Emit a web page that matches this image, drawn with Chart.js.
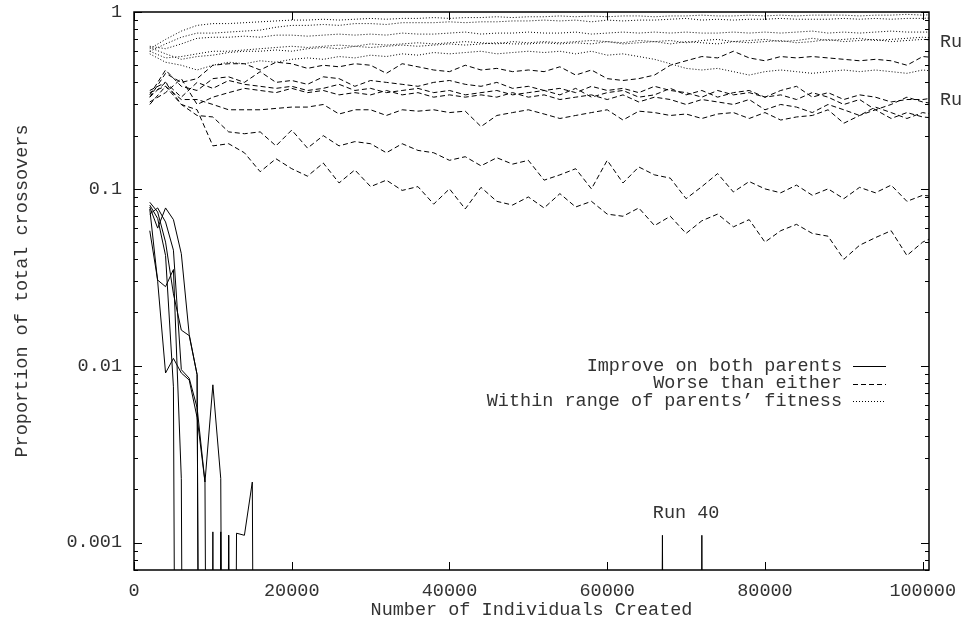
<!DOCTYPE html>
<html>
<head>
<meta charset="utf-8">
<script src="https://cdn.jsdelivr.net/npm/chart.js@4.4.0/dist/chart.umd.min.js"></script>
<style>
  html, body { margin: 0; padding: 0; background: #fff; }
</style>
</head>
<body>
<canvas id="chart" width="968" height="622"></canvas>
<script>
// sample points (individuals created) for the worse / within series
const sampleX = [2000, 4000, 6000, 8000, 10000, 12000, 14000, 16000, 18000, 20000,
  22000, 24000, 26000, 28000, 30000, 32000, 34000, 36000, 38000, 40000,
  42000, 44000, 46000, 48000, 50000, 52000, 54000, 56000, 58000, 60000,
  62000, 64000, 66000, 68000, 70000, 72000, 74000, 76000, 78000, 80000,
  82000, 84000, 86000, 88000, 90000, 92000, 94000, 96000, 98000, 100000,
  102000];

// early samples for the "improve" series
const improveX = [2000, 3000, 4000, 5000, 6000, 7000, 8000, 9000, 10000,
  11000, 12000, 13000, 14000, 15000, 16000];

// Improve on both parents (one list per run, 0 = none)
const improve1 = [0.079, 0.060, 0.078, 0.067, 0.043, 0.015, 0.0089, 0, 0, 0, 0, 0, 0, 0, 0];
const improve2 = [0.077, 0.030, 0.0091, 0.011, 0.0091, 0.0083, 0.0051, 0.0022, 0.0078, 0.0023, 0, 0, 0, 0, 0];
const improve3 = [0.058, 0.0305, 0.028, 0.035, 0.0023, 0, 0, 0, 0, 0.00115, 0, 0, 0, 0, 0];
const improve4 = [0.084, 0.074, 0.050, 0.0255, 0.0159, 0.0148, 0.0089, 0, 0.00115, 0, 0.0011, 0, 0, 0, 0];
const improve5 = [0.081, 0.068, 0.042, 0.0076, 0, 0, 0, 0, 0, 0, 0, 0.00113, 0.0011, 0.0022, 0];
const improve6 = [0.072, 0.078, 0.065, 0.045, 0.0095, 0.0085, 0.0058, 0.0022, 0, 0, 0.0011, 0, 0, 0, 0];
// run 40 late successes
const run40X = [66000, 67000, 68000, 71000, 72000, 73000];
const run40Y = [0, 0.0011, 0, 0, 0.0011, 0];

// Worse than either
const worse1 = [0.33, 0.45, 0.40, 0.42, 0.50, 0.51, 0.51, 0.47, 0.52, 0.51,
  0.48, 0.50, 0.49, 0.51, 0.50, 0.45, 0.51, 0.49, 0.47, 0.46,
  0.50, 0.47, 0.48, 0.46, 0.47, 0.46, 0.49, 0.44, 0.47, 0.42,
  0.41, 0.42, 0.44, 0.50, 0.53, 0.56, 0.55, 0.60, 0.55, 0.53,
  0.56, 0.55, 0.56, 0.55, 0.54, 0.53, 0.54, 0.53, 0.50, 0.56,
  0.55];
const worse2 = [0.34, 0.47, 0.38, 0.36, 0.42, 0.43, 0.40, 0.46, 0.40, 0.41,
  0.39, 0.43, 0.42, 0.38, 0.41, 0.40, 0.39, 0.38, 0.40, 0.41,
  0.39, 0.38, 0.40, 0.37, 0.38, 0.36, 0.37, 0.35, 0.38, 0.36,
  0.37, 0.35, 0.38, 0.36, 0.35, 0.33, 0.36, 0.34, 0.35, 0.33,
  0.36, 0.38, 0.33, 0.35, 0.32, 0.34, 0.33, 0.31, 0.32, 0.32,
  0.33];
const worse3 = [0.36, 0.40, 0.33, 0.40, 0.37, 0.41, 0.39, 0.38, 0.37, 0.38,
  0.36, 0.37, 0.39, 0.36, 0.37, 0.35, 0.36, 0.37, 0.35, 0.36,
  0.34, 0.35, 0.36, 0.34, 0.35, 0.36, 0.34, 0.37, 0.33, 0.35,
  0.36, 0.33, 0.34, 0.37, 0.34, 0.36, 0.33, 0.35, 0.36, 0.33,
  0.34, 0.32, 0.35, 0.33, 0.30, 0.32, 0.28, 0.30, 0.33, 0.31,
  0.30];
const worse4 = [0.31, 0.35, 0.42, 0.30, 0.33, 0.35, 0.37, 0.36, 0.35, 0.37,
  0.35, 0.36, 0.34, 0.35, 0.34, 0.36, 0.34, 0.35, 0.33, 0.34,
  0.33, 0.34, 0.33, 0.35, 0.33, 0.34, 0.32, 0.33, 0.34, 0.32,
  0.34, 0.31, 0.33, 0.32, 0.30, 0.32, 0.31, 0.30, 0.32, 0.28,
  0.30, 0.29, 0.27, 0.30, 0.28, 0.26, 0.29, 0.27, 0.25, 0.27,
  0.26];
const worse5 = [0.30, 0.38, 0.32, 0.32, 0.30, 0.28, 0.28, 0.28, 0.285, 0.29,
  0.29, 0.30, 0.265, 0.28, 0.28, 0.26, 0.28, 0.275, 0.28, 0.27,
  0.275, 0.225, 0.26, 0.27, 0.28, 0.265, 0.25, 0.26, 0.27, 0.28,
  0.245, 0.275, 0.27, 0.26, 0.265, 0.25, 0.265, 0.27, 0.25, 0.27,
  0.245, 0.255, 0.26, 0.28, 0.235, 0.26, 0.28, 0.25, 0.27, 0.255,
  0.25];
const worse6 = [0.35, 0.38, 0.30, 0.26, 0.255, 0.21, 0.205, 0.21, 0.175, 0.215,
  0.17, 0.20, 0.175, 0.185, 0.18, 0.16, 0.18, 0.165, 0.16, 0.145,
  0.152, 0.135, 0.15, 0.138, 0.145, 0.112, 0.12, 0.13, 0.10, 0.145,
  0.108, 0.133, 0.12, 0.115, 0.088, 0.103, 0.122, 0.096, 0.11, 0.10,
  0.095, 0.105, 0.092, 0.10, 0.088, 0.102, 0.095, 0.105, 0.085, 0.092,
  0.09];
const worse7 = [0.33, 0.40, 0.30, 0.28, 0.175, 0.18, 0.16, 0.125, 0.148, 0.13,
  0.118, 0.14, 0.108, 0.128, 0.103, 0.112, 0.098, 0.103, 0.082, 0.10,
  0.077, 0.102, 0.085, 0.081, 0.09, 0.078, 0.094, 0.079, 0.085, 0.072,
  0.07, 0.078, 0.062, 0.07, 0.056, 0.066, 0.072, 0.061, 0.067, 0.05,
  0.058, 0.063, 0.056, 0.054, 0.04, 0.048, 0.053, 0.058, 0.042, 0.05,
  0.055];

// Within range of parents' fitness
const within1 = [0.62, 0.70, 0.78, 0.84, 0.86, 0.86, 0.87, 0.88, 0.89, 0.90,
  0.90, 0.91, 0.90, 0.91, 0.92, 0.91, 0.92, 0.92, 0.93, 0.92,
  0.93, 0.93, 0.94, 0.93, 0.94, 0.94, 0.95, 0.94, 0.95, 0.94,
  0.95, 0.95, 0.94, 0.95, 0.95, 0.96, 0.95, 0.95, 0.96, 0.95,
  0.96, 0.95, 0.96, 0.96, 0.96, 0.95, 0.96, 0.96, 0.97, 0.96,
  0.97];
const within2 = [0.60, 0.66, 0.72, 0.76, 0.76, 0.77, 0.78, 0.79, 0.82, 0.84,
  0.84, 0.85, 0.84, 0.86, 0.86, 0.85, 0.87, 0.87, 0.87, 0.88,
  0.87, 0.88, 0.88, 0.89, 0.89, 0.90, 0.89, 0.90, 0.88, 0.90,
  0.89, 0.90, 0.90, 0.91, 0.92, 0.90, 0.91, 0.90, 0.91, 0.91,
  0.92, 0.91, 0.91, 0.91, 0.92, 0.91, 0.92, 0.91, 0.92, 0.92,
  0.93];
const within3 = [0.64, 0.62, 0.66, 0.71, 0.72, 0.72, 0.73, 0.72, 0.74, 0.74,
  0.73, 0.74, 0.75, 0.74, 0.75, 0.74, 0.76, 0.75, 0.75, 0.76,
  0.77, 0.75, 0.76, 0.76, 0.77, 0.76, 0.76, 0.77, 0.75, 0.76,
  0.77, 0.76, 0.77, 0.76, 0.77, 0.76, 0.76, 0.77, 0.76, 0.77,
  0.76, 0.77, 0.78, 0.76, 0.77, 0.76, 0.77, 0.78, 0.77, 0.77,
  0.77];
const within4 = [0.60, 0.55, 0.56, 0.58, 0.60, 0.60, 0.61, 0.62, 0.63, 0.64,
  0.63, 0.64, 0.65, 0.64, 0.66, 0.65, 0.66, 0.67, 0.66, 0.67,
  0.68, 0.67, 0.66, 0.68, 0.67, 0.68, 0.67, 0.68, 0.69, 0.68,
  0.67, 0.69, 0.68, 0.69, 0.67, 0.69, 0.70, 0.68, 0.69, 0.70,
  0.68, 0.69, 0.71, 0.69, 0.70, 0.71, 0.69, 0.70, 0.71, 0.72,
  0.71];
const within5 = [0.63, 0.58, 0.54, 0.56, 0.57, 0.59, 0.60, 0.60, 0.61, 0.60,
  0.62, 0.63, 0.62, 0.64, 0.63, 0.64, 0.65, 0.64, 0.65, 0.66,
  0.65, 0.66, 0.67, 0.66, 0.66, 0.67, 0.66, 0.67, 0.66, 0.68,
  0.66, 0.67, 0.68, 0.66, 0.68, 0.67, 0.66, 0.68, 0.67, 0.68,
  0.69, 0.67, 0.68, 0.70, 0.68, 0.69, 0.70, 0.68, 0.69, 0.70,
  0.69];
const within6 = [0.58, 0.52, 0.50, 0.47, 0.50, 0.52, 0.51, 0.53, 0.52, 0.54,
  0.55, 0.54, 0.56, 0.55, 0.57, 0.56, 0.58, 0.57, 0.59, 0.58,
  0.59, 0.60, 0.58, 0.59, 0.60, 0.59, 0.60, 0.58, 0.60, 0.57,
  0.58, 0.56, 0.54, 0.51, 0.48, 0.47, 0.48, 0.46, 0.44, 0.46,
  0.47, 0.46, 0.45, 0.46, 0.47, 0.46, 0.47, 0.46, 0.45, 0.47,
  0.46];

const xTicks = [0, 20000, 40000, 60000, 80000, 100000];
const yTicks = [0.001, 0.01, 0.1, 1];
const yTickLabels = ['0.001', '0.01', '0.1', '1'];
const legendLabels = ['Improve on both parents', 'Worse than either', 'Within range of parents’ fitness'];
const styles = { solid: [], dashed: [5, 3], dotted: [1, 2] };

// a zero can't sit on a log axis; push it far below so the line drops straight out
const LOG_FLOOR = 1e-12;
const pts = (xs, ys) => xs.map((x, i) => ({ x: x, y: ys[i] === 0 ? LOG_FLOOR : ys[i] }));

const FONT = { family: '"Liberation Mono", "Courier New", monospace', size: 18.5 };
const TEXT = '#333';

function series(data, dash) {
  return { data: data, borderColor: '#000', borderWidth: 1, borderDash: dash,
    pointRadius: 0, tension: 0, fill: false };
}

const datasets = [];
[within1, within2, within3, within4, within5, within6].forEach(v => datasets.push(series(pts(sampleX, v), styles.dotted)));
[worse1, worse2, worse3, worse4, worse5, worse6, worse7].forEach(v => datasets.push(series(pts(sampleX, v), styles.dashed)));
[improve1, improve2, improve3, improve4, improve5].forEach(v => datasets.push(series(pts(improveX, v), styles.solid)));
datasets.push(series(pts(improveX.concat(run40X), improve6.concat(run40Y)), styles.solid));

// frame, mirrored inward ticks, legend and run notes
const decor = {
  id: 'decor',
  afterDatasetsDraw(chart) {
    const { ctx, chartArea: a, scales: { x, y } } = chart;
    ctx.save();
    ctx.strokeStyle = '#000';
    ctx.lineWidth = 1;
    ctx.beginPath();
    xTicks.forEach(v => {
      const px = Math.round(x.getPixelForValue(v)) + 0.5;
      ctx.moveTo(px, a.bottom); ctx.lineTo(px, a.bottom - 8);
      ctx.moveTo(px, a.top); ctx.lineTo(px, a.top + 8);
    });
    [0.0001, 0.001, 0.01, 0.1].forEach(d => {
      for (let m = 1; m <= 9; m++) {
        const v = d * m;
        if (v < y.min || v > y.max) continue;
        const py = Math.round(y.getPixelForValue(v)) + 0.5;
        const len = (m === 1) ? 8 : 4;
        ctx.moveTo(a.left, py); ctx.lineTo(a.left + len, py);
        ctx.moveTo(a.right, py); ctx.lineTo(a.right - len, py);
      }
    });
    const top = Math.round(y.getPixelForValue(1)) + 0.5;
    ctx.moveTo(a.left, top); ctx.lineTo(a.left + 8, top);
    ctx.moveTo(a.right, top); ctx.lineTo(a.right - 8, top);
    ctx.stroke();

    ctx.lineWidth = 1.5;
    ctx.strokeRect(a.left, a.top, a.right - a.left, a.bottom - a.top);

    // legend
    ctx.font = FONT.size + 'px ' + FONT.family;
    ctx.fillStyle = TEXT;
    ctx.textAlign = 'right';
    ctx.textBaseline = 'middle';
    const dashes = [styles.solid, styles.dashed, styles.dotted];
    legendLabels.forEach((t, i) => {
      const ly = 366 + i * 17.5;
      ctx.fillText(t, 842, ly);
      ctx.beginPath();
      ctx.lineWidth = 1;
      ctx.setLineDash(dashes[i]);
      ctx.moveTo(853, Math.round(ly) + 0.5);
      ctx.lineTo(886, Math.round(ly) + 0.5);
      ctx.stroke();
    });
    ctx.setLineDash([]);

    // run notes
    ctx.textAlign = 'center';
    ctx.fillText('Run 40', x.getPixelForValue(70000), y.getPixelForValue(0.00147));
    ctx.textAlign = 'left';
    ctx.fillText('Ru', a.right + 11, y.getPixelForValue(0.677));
    ctx.fillText('Ru', a.right + 11, y.getPixelForValue(0.318));
    ctx.restore();
  }
};

new Chart(document.getElementById('chart'), {
  type: 'line',
  data: { datasets: datasets },
  plugins: [decor],
  options: {
    responsive: false,
    animation: false,
    events: [],
    layout: { padding: { top: 12, right: 39, left: 0, bottom: 0 } },
    plugins: { legend: { display: false }, tooltip: { enabled: false } },
    scales: {
      x: {
        type: 'linear',
        min: 0,
        max: 100800,
        grid: { display: false, drawTicks: false },
        border: { display: false },
        afterBuildTicks: s => { s.ticks = xTicks.map(v => ({ value: v })); },
        afterFit: s => { s.height = 52; s.paddingLeft = 0; s.paddingRight = 0; },
        ticks: {
          font: FONT, color: TEXT, padding: 10, maxRotation: 0, autoSkip: false,
          callback: v => String(v)
        },
        title: {
          display: true, text: 'Number of Individuals Created',
          font: FONT, color: TEXT, padding: { top: 0, bottom: 1 }
        }
      },
      y: {
        type: 'logarithmic',
        min: 0.0007,
        max: 1,
        grid: { display: false, drawTicks: false },
        border: { display: false },
        afterBuildTicks: s => { s.ticks = yTicks.map(v => ({ value: v })); },
        // fixed gutter; the label overflow is already covered by the layout padding
        afterFit: s => { s.width = 134; s.paddingTop = 0; s.paddingBottom = 0; },
        ticks: {
          font: FONT, color: TEXT, padding: 12, autoSkip: false,
          callback: v => yTickLabels[yTicks.indexOf(v)]
        },
        title: {
          display: true, text: 'Proportion of total crossovers',
          font: FONT, color: TEXT, padding: { top: 11, bottom: 0 }
        }
      }
    }
  }
});
</script>
</body>
</html>
